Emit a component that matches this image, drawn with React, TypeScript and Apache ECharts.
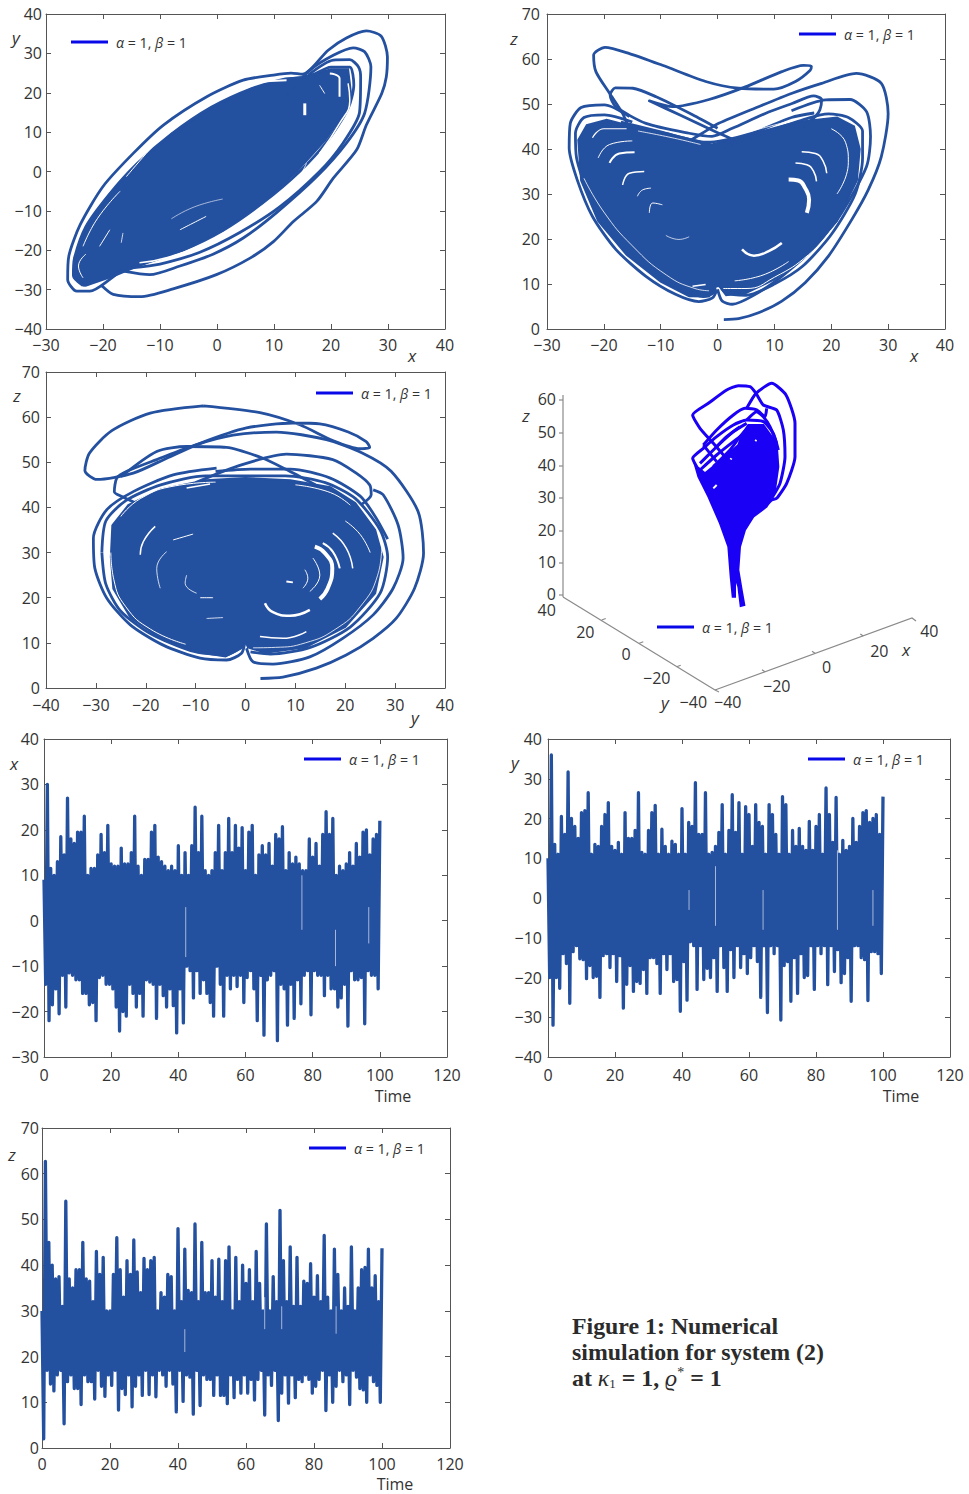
import React, { useEffect, useRef } from "react";
import * as echarts from "echarts";

// ---------- Shared labels ----------
const legendName = "α = 1, β = 1";
const captionLines = ["Figure 1: Numerical", "simulation for system (2)"];

// ---------- Panel 1: x–y phase portrait ----------
const xyCore = [[-25,-22],[-23,-14],[-19,-6],[-14,2],[-8,9.5],[-1,16.3],[6,21],[12,23.5],[15,24],[20,26],[23,26],[23.5,20],[22.5,15],[19,8],[14,0],[8,-8],[1,-15],[-6,-20],[-13,-23.5],[-18,-26.5],[-23,-29],[-25,-27]];
const xyLoopA = [[-20.2,-29],[-18.2,-31.2],[-13.5,-31.8],[-7.7,-29.8],[-0.1,-26.2],[5.8,-22],[9.9,-17.8],[13.4,-12.7],[17.5,-7.6],[20.4,-1.7],[24.5,5.5],[26.2,11.8],[28.9,19.8],[29.7,24],[29.9,29.1],[28.8,34.4],[26.2,35.7],[22.7,33.9],[19.5,30.8],[15,24.7],[13,25],[9.9,24.5],[4.6,23.2],[-1.8,19],[-9.4,11.8],[-14.7,4.6],[-20,-3.8],[-24,-13.5],[-26,-21.5],[-26.2,-27.4],[-24.6,-30.4],[-22.3,-30.4],[-18.8,-27.4],[-15.9,-24]];
const xyLoopB = [[-16.4,-25.3],[-11.8,-26.2],[-6.5,-24],[-0.7,-21],[4.6,-16.9],[10.4,-10.5],[17.5,-1.3],[22.7,7.2],[25.9,14.8],[27,26.6],[25.9,30.4],[23.9,31.4],[20.4,29.5],[16.3,25.7],[12.2,19.4]];
const xyLoopC = [[-15,-24.5],[-10,-23.5],[-3,-20.5],[4,-15.5],[11,-9],[18,0],[22,7],[25,15],[25.2,24],[24.8,26.6],[23.3,28.4],[20.4,28.3],[16,24.5]];
const xyRingA = [[-23.5,-29],[-25.2,-26.5],[-25,-22],[-23,-14],[-19,-6],[-14,2],[-8,9.5],[-1,16.3],[6,21],[12,23.5],[16,24],[20,26.5],[23.3,26.5],[24,22],[23,16],[19.5,8],[14.5,0],[8,-8],[1,-15],[-6,-20],[-13,-23.5],[-18,-26],[-23.5,-29]];
const xyStreaks: [number, number[][]][] = [
  [3, [[15.4,17.3],[15.4,14.3]]],
  [1, [[18,21.9],[18.9,19.8]]],
  [1, [[-6.5,-14.8],[-1.9,-11.4]]],
  [0.6, [[-8,-12],[-4,-9],[1,-7]]],
  [0.8, [[8.6,-10.5],[13.3,-3.8],[15.7,2.1]]],
  [1, [[-20.6,-19],[-18.8,-14.8]]],
  [0.8, [[-16.8,-18.1],[-16.5,-15.6]]],
  [2, [[-8.9,11],[-0.7,18.1],[6.3,22.4],[12.2,23.2]]],
  [1, [[-15.9,-1.3],[-12.4,4.6],[-8.9,10.1]]],
  [1.5, [[-13.6,-23.2],[-8.9,-21.9],[-1.9,-18.1],[5.1,-12.7]]],
  [1.5, [[23,22.4],[23.3,18.1],[21.5,12.2],[18,4.6]]],
  [2, [[19.8,24.9],[21.5,23.6],[21.5,19]]],
  [1, [[-23.5,-19],[-21,-12],[-17,-5]]],
  [1, [[-23.5,-27],[-24.3,-24],[-23,-21]]],
];

// ---------- Panel 2: x–z phase portrait ----------
const xzCore = [[-24.5,42],[-23,45.3],[-19.5,46.5],[-15,45],[-9,43.5],[-1,41],[5,43],[14,46],[21,47],[24,45],[25,40],[24.5,33],[21,24],[16,17],[10,11],[5,8],[1.5,7.5],[0.3,9.5],[-0.3,9.5],[-1.5,7.2],[-5,7.3],[-10,10.5],[-16,16.5],[-21,24],[-24,33]];
const xzLoopA = [[1.1,2.1],[3.7,2.3],[7.2,3.6],[11.3,6.2],[15.4,10.3],[19.5,16.2],[23.6,24.3],[26.5,30.9],[28.8,38.3],[30,47.9],[28.8,54.6],[24.4,56.8],[18.3,54.6],[13.1,52.4],[7.2,49.4],[0.2,45.7],[-2.7,43.5],[-6,41]];
const xzLoopB = [[-15.5,44.2],[-16.7,47.9],[-19,52.4],[-21.4,57.2],[-21.8,60.9],[-19.8,62.6],[-15.5,61.2],[-9.7,58.6],[-2.1,55],[3.7,53.5],[9.9,53.3],[13.7,55],[16.3,57.5],[16.5,58.4],[15.1,58.6],[11.3,57.2],[4.9,53.8],[-1.5,51],[-7.9,49.4],[-12,50.7],[-6.7,47.6],[0.2,43.5],[3,42]];
const xzLoopC = [[0,44.6],[-4.4,47.6],[-10.8,51.6],[-14.9,53.5],[-18,53.6],[-18.9,52],[-17.9,49.4],[-12.6,45.7],[-5,43.5],[-1,42.8],[2.6,44.6],[8.4,47.9],[13.1,50.1],[16.9,51.8],[18.3,51],[18,48.7],[17.2,47.2],[15,45]];
const xzLoopD = [[13,48.5],[19,50.9],[23.3,51],[26.2,48.3],[26.9,42.8],[26.2,36.1],[21.8,25.8],[17.2,18.4],[11.3,11.7],[6.1,7.3],[2.6,5.5],[0.8,6.2],[0,8.8]];
const xzLoopE = [[-15.5,47.2],[-19.9,49.8],[-24,49.2],[-25.9,45.7],[-26.1,40.2],[-24.7,33.2],[-22,25],[-17.9,17.7],[-12.6,11.7],[-7.4,7.7],[-3.3,6.1],[-0.9,6.9],[-0.1,8.8]];
const xzRingA = [[-15,46],[-19.9,47.6],[-23.5,47],[-25,43.5],[-24.8,38],[-23,31],[-20,24.5],[-16,18],[-11,12.5],[-6,8.7],[-2.5,7.2],[-0.8,8],[-0.3,10]];
const xzRingB = [[0.3,10],[1.5,8],[5,7.5],[10,10],[15,14],[20,21],[24.2,30],[25.5,38],[25.5,44],[23,47],[19.5,47.8],[15,46.5],[8,43.5],[0,40]];
const xzRingD = [[-17,46],[-10,43.8],[-2,41.5],[6,43.5],[13,47],[17,48]];
const xzStreaks: [number, number[][]][] = [
  [4, [[12.5,33.2],[14.2,33],[15.4,31.3],[16.1,28.7],[15.7,25.8]]],
  [1.5, [[13.7,36.9],[15.7,36.5],[16.9,35],[17.4,32.8]]],
  [1.5, [[14.8,39.4],[17.2,39],[18.6,37.2],[19.2,34.6]]],
  [2.5, [[4.3,17.7],[6.4,16.3],[9,17.3],[11.3,19.1]]],
  [2, [[-19,36.9],[-17.3,39],[-14.6,39.3]]],
  [1.5, [[-16.7,32],[-15.5,34.6],[-12.9,35]]],
  [1, [[-14.1,29.5],[-13.2,30.9],[-11.7,31.3]]],
  [1, [[-12,25.8],[-11.4,28],[-9.7,27.6]]],
  [0.7, [[-9.1,20.8],[-6.8,19.9],[-5,20.5]]],
  [1.5, [[-4.4,9.5],[-2.1,9.9]]],
  [0.8, [[-23.5,33.5],[-20,26],[-15,18.5],[-9,12],[-4,9],[-1.5,8.5]]],
  [1, [[1,9],[5,9],[10,11.5],[16,16.5],[20,22]]],
  [1, [[3,10.7],[8,12],[12.5,15]]],
  [0.8, [[-14,44],[-8,42.5],[-3,41]]],
  [0.8, [[6,44],[12,46]]],
  [1.2, [[-22,42.5],[-20,44.5],[-16,44.5]]],
  [1, [[-21,38],[-19,41],[-15,41.8]]],
  [1, [[20,44.5],[22.5,41.5],[23,37],[21,30]]],
];

// ---------- Panel 3: y–z phase portrait ----------
const yzCore = [[-27,29],[-26.7,36],[-23.5,40.5],[-17,44],[-8,46],[0,46.5],[9,46],[17,44.5],[22,41],[26,35],[27.5,29],[26,21],[20,13.5],[12,9],[4,7.8],[0.5,9],[0,10.3],[-0.5,9],[-4,7],[-10,8],[-17,11],[-23,15.5],[-26.5,22]];
const yzLoopA = [[3,2.1],[7.5,2.4],[14.2,4.4],[20.2,7.3],[25.6,11],[30.2,15.4],[33.9,22.1],[35.7,29.9],[34.6,39.1],[29.2,48],[23.5,52],[16.2,55],[6.2,56.7],[-2.5,56],[-9.8,53.9],[-17.8,50.6],[-23.8,48],[-25.8,46.5],[-26.3,43.5],[-24.8,42.4],[-22,41]];
const yzLoopB = [[-8.5,62.5],[-19.1,60.9],[-26.8,57],[-31.3,52],[-32.2,48.2],[-29.8,46.2],[-22.5,47.6],[-15.8,50.9],[-9.1,54.2],[0.2,57.6],[9.5,58.7],[14.9,58.5],[20.6,56.7],[24.2,54.6],[24.9,53.3],[22.9,53],[17.5,54.8],[10.9,58.3],[2.9,61],[-8.5,62.5]];
const yzLoopC = [[-25,46.8],[-17.8,52.4],[-11.8,53.5],[-3.8,53.3],[3.5,50.9],[8,48.5],[14,45]];
const yzLoopD = [[-10,45.5],[-2,49],[8.2,51.8],[17.5,50.6],[22.2,47.6],[24.9,45],[25.2,42.8],[23.2,40.6]];
const yzLoopE = [[25.6,43.9],[27.6,42.8],[30.6,36.1],[31.6,28.8],[29.6,22.1],[25.6,16.2],[19.5,11],[12.9,6.9],[5.5,5.3],[1.5,5.8],[0.2,8.8]];
const yzLoopF = [[-5.8,48.7],[-14.5,47.2],[-22.5,43.5],[-27.8,39.5],[-30.5,33.2],[-30.2,26.5],[-27.8,19.9],[-23.1,14],[-16.5,9.5],[-9.1,6.6],[-3.8,6.2],[-0.8,7.7],[-0.1,10.3]];
const yzRingA = [[-28.8,30],[-28,37],[-24,41.5],[-17,45],[-8,47],[0,47],[8,47],[16,45.5],[22,42],[27,35],[28.5,29],[27,21],[21,13.5],[13,9],[5,7.5],[1,8]];
const yzRingB = [[-28.8,30],[-28,23],[-25,17],[-19,12],[-11,8.3],[-4,7.3],[-0.8,9]];
const yzRingC = [[-6,48],[1,48.5],[9,48.5],[17,46.5],[23,42.5],[26,38],[28.5,33]];
const yzStreaks: [number, number[][]][] = [
  [4, [[13.9,31.3],[15.9,29.9],[17.4,26.5],[16.5,22.1],[14.9,19.7]]],
  [2.5, [[3.9,18.8],[5.5,16.8],[8.9,16],[12.9,17.3]]],
  [2, [[15.5,32.1],[17.5,30.2],[18.9,26.5]]],
  [1.5, [[17.5,34.3],[20.2,31],[21.5,26.5]]],
  [2, [[8.2,23.6],[9.5,23.4]]],
  [1, [[11.9,26.2],[12.5,24.3],[11.5,22.1]]],
  [1, [[13.5,28.8],[14.9,25],[12.9,21.4]]],
  [1, [[-14.5,32.8],[-10.5,34.1]]],
  [1.5, [[-18.1,35.8],[-20.5,32.4],[-21.1,29.5]]],
  [0.8, [[-15.8,30.2],[-17.8,26.5],[-17.1,22.1]]],
  [0.8, [[-11.8,25],[-12.1,23.2],[-9.8,21]]],
  [1, [[-9.1,20],[-6.5,20]]],
  [0.8, [[-7.8,15.4],[-4.5,15.6]]],
  [1.5, [[-11.8,44.3],[-7.1,45.2]]],
  [1.5, [[2.9,11.4],[7.5,11],[12.2,12.5]]],
  [1, [[-27,30],[-26.4,24],[-24,18],[-19,13],[-12,9.7]]],
  [0.8, [[1.5,8.9],[6,9],[12,10],[18,13],[23,18],[26.5,25],[27.3,31]]],
  [1, [[-25,38],[-21,42],[-14,44.8],[-6,45.6]]],
  [1, [[10,45],[17,43.3],[21,40.5]]],
  [1, [[20,37],[23,34],[25,30]]],
];

// ---------- Panel 4: 3-D view, in view-plane units ----------
const viewCore = [[585,285],[615,310],[670,265],[715,225],[725,195],[745,165],[790,165],[830,220],[835,290],[825,360],[800,410],[760,440],[735,480],[720,530],[715,600],[725,660],[733,705],[722,708],[715,650],[705,620],[705,680],[698,680],[692,620],[685,530],[660,460],[625,380],[595,320]];
const viewLoops = [
  [[675,260],[640,220],[600,175],[578,135],[625,100],[680,60],[715,47],[750,50],[768,70],[790,105],[830,120],[850,180],[855,260],[840,340],[815,385]],
  [[740,115],[768,70],[815,40],[858,75],[885,160],[885,260],[860,340],[830,385],[815,390],[800,405]],
  [[610,225],[650,180],[700,135],[735,115],[770,120],[795,140],[800,115]],
  [[740,150],[770,125],[790,140],[810,170],[830,220]],
  [[590,290],[578,265],[610,235],[650,200],[700,165],[740,150],[790,155],[820,190],[835,240]],
  [[610,225],[630,250],[650,275]],
  [[600,280],[640,240],[680,200],[720,170]],
  [[600,300],[650,255],[700,215],[740,185]],
  [[620,320],[680,270],[720,225],[760,175]],
  [[640,290],[690,240],[720,200],[750,165]],
  [[650,230],[700,185],[740,160]],
];
const viewStreaks: [number, number[][]][] = [
  [2, [[640,355],[650,345]]],
  [1.5, [[690,265],[696,268]]],
  [1.5, [[765,210],[770,213]]],
];

// ---------- Panels 5–7: time series, one high and one low per time unit ----------
const xHighs = [9,30,11.5,10,13,18.5,14.5,27,18,17,19.5,19.5,23,10,11.5,11.5,14.5,19,15,21,12.5,12,12,16,12.5,12.5,15,23,12,10,13.5,13.5,19.5,21,14,13,12,11,12,11,16.5,10,15,10,16.5,25,15,23,11,10,11,15,21,11,15,22.5,15,21,16,20.5,11,19.5,21,10,14.5,16.5,14.5,17,12,19,18,20.7,11,15,12.5,14,12.5,11,11,18,14,17,12,19,24,19,22.5,10,12,11,12.5,15,12,17,14,19.5,20,14.5,18,19,22];
const xLows = [-14,-22,-18.5,-15,-20.5,-12,-19,-11.5,-12,-13,-13,-16,-16,-18.5,-18,-22,-12.5,-12,-14,-14,-15,-19,-24.3,-20,-21,-14,-16,-19,-16,-21,-13,-13.5,-14,-21.5,-14,-16.5,-19,-15,-18.7,-24.7,-15,-22.5,-10,-11,-17,-11,-16,-13,-16,-18,-21,-10,-14,-21,-12,-15,-12,-14.5,-12,-18,-12.5,-11,-15,-22,-12,-25.2,-13,-12,-11,-26.4,-14,-15,-23,-14,-21.5,-13,-18.3,-12,-11,-20.7,-11,-12,-12,-16.5,-12,-15,-15,-19,-17,-14,-23.2,-11,-13,-13,-12.5,-22.7,-11,-12,-12,-15];
const yHighs = [10,36,13.5,11,20.5,16,31.7,20,18,15,21.5,22,26.5,11,13.5,13,18,21,24,13,12,14,11,21.5,15,15,17,26.5,11.5,11,17,21.5,23.3,11,17.3,13,11,14.3,13.5,11,22.5,11,19,18,29,16,16,26.5,11,11.5,13,16.5,23.5,11,17,26,16.5,24,11,23,21,13,23.5,19,18,11,23.5,21,16,11,25.5,23.5,11,17,13,17.5,13,12,19.3,12,18,21,11,27.7,21,14,25.3,11,14.5,12,13,20,14,18,21.5,22,19,20,21,16,25.5];
const yLows = [-20,-32,-20,-22.7,-14,-16.5,-26.5,-13.5,-12,-15.3,-15.5,-20.3,-17,-20,-19.7,-25,-14.5,-14,-17.5,-14,-21,-14.5,-27.7,-21.7,-17,-23.5,-21,-21.5,-18,-24,-15,-15,-16.5,-24,-14,-18,-14,-21,-20.5,-28.5,-16,-25.7,-11,-12,-23,-12,-20.5,-17.7,-20,-15,-23.5,-12,-17.5,-23.5,-13,-20,-12,-17.5,-14,-19,-15,-12,-16,-25,-12,-28.8,-12,-14,-12,-30.7,-17,-16,-26,-15,-24,-14,-20,-19.5,-12,-23,-12,-14,-12,-21.8,-12,-18.5,-13,-21.3,-19,-15,-26,-12,-12,-15,-15.5,-25.8,-13.5,-13.5,-14,-19];
const zHighs = [30,62.7,45,40,37,37.5,31,54,37,35,39,39,45,37,36.5,32,43,38,41.7,30,30,38,46,39,33,41,38,45.5,38.5,34,41.5,39,41,41.7,30,34,33,38,37.5,30,48,32,43.5,34.5,34,49,32,45,34,34,41,33,41.3,32,41,44,30,41.7,32,40,36,39,32,43,36,30,49,30,37.5,32,52,41,32,44,31,41.7,31,36.5,36,40.3,33,37.7,32,46.5,33,30,43.5,38,30,35,31,44,30,35,39,39.5,43.5,35,37.7,32,43.7];
const zLows = [2,17,14,12.5,16,17,5.3,14.5,16,13,13,9.5,16,14.5,14.5,10.7,17,13.5,11.3,16,13.7,17,8.3,13,11.7,16,9,13.5,16,11.5,17,11.7,16,11.2,17,16,13.5,17,14,7.9,17,10.2,16,15.5,7.4,17,9.3,16,15,15,11.5,16,11.5,11.5,9.7,16,11,15,12,16,12,15,10.5,15,17,7.2,16,13.7,17,6,12,16,9.8,16,11,15,14.5,16,15,12,13.5,15,17,8.2,16,10,13.5,17,14.5,16,9.5,17,15.5,13,12.7,10,16,14.5,13.7,10];
const xLightLines = [[[42.2,3],[42.2,-8]],[[76.8,10],[76.8,-2]],[[86.8,-2],[86.8,-10]],[[96.7,3],[96.7,-5]]];
const yLightLines = [[[50,8],[50,-7]],[[64.2,2],[64.2,-8]],[[86.4,12],[86.4,-8]],[[97,2],[97,-7]],[[42.1,2],[42.1,-3]]];
const zLightLines = [[[42,26],[42,21]],[[65.5,33],[65.5,26]],[[70.5,31],[70.5,26]],[[86.5,31],[86.5,25]]];

// ---------- Styles ----------
const traceColor = "#2450a0";
const view3dColor = "#1a00f5";
const legendColor = "#0808e8";
const inkColor = "#333333";
const axisColor = "#555555";
const lightLine = "#b4c3e0";
const sansFont = "'Open Sans', sans-serif";

const minus = (v: number | string) => String(v).replace("-", "−");

// Weave a high/low pair into one line read along time.
const weave = (highs: number[], lows: number[]) => {
  const out: number[][] = [];
  highs.forEach((h, i) => {
    out.push([i, h]);
    if (i < lows.length) out.push([i + 0.5, lows[i]]);
  });
  return out;
};

type Panel = {
  box: [number, number, number, number];
  xr: [number, number, number];
  yr: [number, number, number];
  xMargin: number;
  yMargin: number;
  xName: string;
  yName: string;
  xNameAt: [number, number];
  yNameAt: [number, number];
  legendAt: [number, number];
  core?: number[][];
  loops: number[][][];
  streaks?: [number, number[][]][];
  light?: number[][][];
};

const panels: Panel[] = [
  { box: [46, 14, 399, 315], xr: [-30, 40, 10], yr: [-40, 40, 10], xMargin: 8, yMargin: 4, xName: "x", yName: "y", xNameAt: [412, 355], yNameAt: [16, 37], legendAt: [71, 42],
    core: xyCore, loops: [xyRingA, xyLoopA, xyLoopB, xyLoopC], streaks: xyStreaks },
  { box: [547, 14, 398, 315], xr: [-30, 40, 10], yr: [0, 70, 10], xMargin: 8, yMargin: 7, xName: "x", yName: "z", xNameAt: [914, 355], yNameAt: [514, 38], legendAt: [799, 34],
    core: xzCore, loops: [xzRingA, xzRingB, xzRingD, xzLoopA, xzLoopB, xzLoopC, xzLoopD, xzLoopE], streaks: xzStreaks },
  { box: [46, 372, 399, 316], xr: [-40, 40, 10], yr: [0, 70, 10], xMargin: 9, yMargin: 6, xName: "y", yName: "z", xNameAt: [415, 717], yNameAt: [17, 395], legendAt: [316, 393],
    core: yzCore, loops: [yzRingA, yzRingB, yzRingC, yzLoopA, yzLoopB, yzLoopC, yzLoopD, yzLoopE, yzLoopF], streaks: yzStreaks },
  { box: [44, 739, 403, 318], xr: [0, 120, 20], yr: [-30, 40, 10], xMargin: 10, yMargin: 5, xName: "Time", yName: "x", xNameAt: [393, 1096], yNameAt: [14, 763], legendAt: [304, 759],
    loops: [weave(xHighs, xLows)], light: xLightLines },
  { box: [548, 739, 402, 318], xr: [0, 120, 20], yr: [-40, 40, 10], xMargin: 10, yMargin: 6, xName: "Time", yName: "y", xNameAt: [901, 1096], yNameAt: [515, 762], legendAt: [808, 759],
    loops: [weave(yHighs, yLows)], light: yLightLines },
  { box: [42, 1128, 408, 320], xr: [0, 120, 20], yr: [0, 70, 10], xMargin: 8, yMargin: 3, xName: "Time", yName: "z", xNameAt: [395, 1484], yNameAt: [12, 1154], legendAt: [309, 1148],
    loops: [weave(zHighs, zLows)], light: zLightLines },
];

const view3dGrid = 6; // index of the 3-D view's grid

// Polygon series: the part of the attractor where the trace fills solid.
function coreSeries(idx: number, pts: number[][], color: string) {
  return {
    type: "custom",
    name: "core" + idx,
    xAxisIndex: idx * 2,
    yAxisIndex: idx * 2,
    silent: true,
    clip: false,
    data: pts,
    renderItem: (p: any, api: any) => {
      if (p.dataIndex !== 0) return null;
      return {
        type: "polygon",
        shape: { points: pts.map((d) => api.coord(d)) },
        style: { fill: color, stroke: color, lineWidth: 2 },
      };
    },
  };
}

function lineSeries(name: string, idx: number, data: number[][], color: string, width: number, smooth: number | boolean = false) {
  return {
    type: "line",
    name,
    xAxisIndex: idx * 2,
    yAxisIndex: idx * 2,
    data,
    showSymbol: false,
    symbol: "none",
    silent: true,
    clip: false,
    smooth,
    lineStyle: { color, width, join: "round" },
    itemStyle: { color },
    emphasis: { disabled: true },
  };
}

function buildOption() {
  const grid: any[] = [];
  const xAxis: any[] = [];
  const yAxis: any[] = [];
  const series: any[] = [];
  const legend: any[] = [];

  const legendAt = (at: [number, number]) => ({
    left: at[0],
    top: at[1] - 7,
    padding: 0,
    itemWidth: 37,
    itemHeight: 3,
    itemGap: 0,
    selectedMode: false,
    data: [{ name: legendName, icon: "rect", itemStyle: { color: legendColor } }],
    formatter: () => "{i|α} = 1, {i|β} = 1",
    textStyle: {
      color: inkColor,
      fontFamily: sansFont,
      fontSize: 14.2,
      padding: [0, 0, 0, 3],
      rich: {
        i: { fontStyle: "italic", color: inkColor, fontFamily: sansFont, fontSize: 14.2 },
      },
    },
  });

  panels.forEach((p, idx) => {
    const [l, t, w, h] = p.box;
    grid.push({ left: l, top: t, width: w, height: h, containLabel: false });
    const line = { show: true, onZero: false, lineStyle: { color: axisColor, width: 1 } };
    const tick = { show: true, inside: true, length: 5, lineStyle: { color: axisColor, width: 1 } };
    const xBase = { type: "value", gridIndex: idx, min: p.xr[0], max: p.xr[1], interval: p.xr[2], splitLine: { show: false }, axisLine: line, axisTick: tick };
    const yBase = { type: "value", gridIndex: idx, min: p.yr[0], max: p.yr[1], interval: p.yr[2], splitLine: { show: false }, axisLine: line, axisTick: tick };
    xAxis.push({
      ...xBase,
      position: "bottom",
      axisLabel: { color: inkColor, fontFamily: sansFont, fontSize: 16, margin: p.xMargin, formatter: minus, hideOverlap: false, showMinLabel: true, showMaxLabel: true },
    });
    xAxis.push({ ...xBase, position: "top", axisLabel: { show: false } });
    yAxis.push({
      ...yBase,
      position: "left",
      axisLabel: { color: inkColor, fontFamily: sansFont, fontSize: 16, margin: p.yMargin, formatter: minus, hideOverlap: false, showMinLabel: true, showMaxLabel: true },
    });
    yAxis.push({ ...yBase, position: "right", axisLabel: { show: false } });

    if (p.core) series.push(coreSeries(idx, p.core, traceColor));
    p.loops.forEach((d, i) => {
      const isOuter = i === p.loops.length - 1;
      series.push(lineSeries(isOuter ? legendName : `trace${idx}-${i}`, idx, d, traceColor, p.core ? 2.8 : 3.3, p.core ? 0.25 : false));
    });
    (p.streaks || []).forEach(([wd, d], i) => {
      series.push(lineSeries(`gap${idx}-${i}`, idx, d, "#ffffff", wd, true));
    });
    (p.light || []).forEach((d, i) => {
      series.push(lineSeries(`light${idx}-${i}`, idx, d, lightLine, 0.9));
    });
    legend.push(legendAt(p.legendAt));
  });

  // 3-D view: hidden scales in view-plane units.
  grid.push({ left: 500, top: 370, width: 469, height: 350 });
  const hiddenX = { type: "value", gridIndex: view3dGrid, min: 0, max: 1407, show: false };
  const hiddenY = { type: "value", gridIndex: view3dGrid, min: 0, max: 1050, inverse: true, show: false };
  xAxis.push(hiddenX, { ...hiddenX });
  yAxis.push(hiddenY, { ...hiddenY });
  series.push(coreSeries(view3dGrid, viewCore, view3dColor));
  viewLoops.forEach((d, i) => {
    series.push(lineSeries(i === 0 ? legendName : `view-${i}`, view3dGrid, d, view3dColor, 3, 0.2));
  });
  viewStreaks.forEach(([wd, d], i) => {
    series.push(lineSeries(`viewgap-${i}`, view3dGrid, d, "#ffffff", wd));
  });
  legend.push(legendAt([657, 627]));

  return { animation: false, backgroundColor: "#ffffff", grid, xAxis, yAxis, series, legend, graphic: buildGraphics() };
}

// Axis frame and labels of the 3-D view.
const zTicks3d = [[563, 400, "60"], [563, 433, "50"], [563, 466, "40"], [563, 498, "30"], [563, 531, "20"], [563, 563, "10"], [563, 595, "0"]] as const;
const yLabels3d = [[546.7, 610, "40"], [585.3, 631.7, "20"], [626, 654.3, "0"], [656.7, 677.7, "−20"], [693.3, 701.7, "−40"]] as const;
const xLabels3d = [[727.7, 701.7, "−40"], [776.7, 685.7, "−20"], [826.7, 666.7, "0"], [879.3, 651, "20"], [929.3, 631, "40"]] as const;
const yTickMarks3d = [[601.7, 620], [639.3, 643.3], [676.7, 666.7]];
const xTickMarks3d = [[765, 671.7], [815, 653.3], [863.3, 636]];

function buildGraphics() {
  const g: any[] = [];
  const gray = { stroke: "#8a8a8a", lineWidth: 1.2 };
  const text = (x: number, y: number, t: string, extra: any = {}) => ({
    type: "text", x, y, silent: true,
    style: { text: t, fill: inkColor, font: `16px ${sansFont}`, align: "center", verticalAlign: "middle", ...extra },
  });
  g.push({ type: "line", silent: true, shape: { x1: 563, y1: 395, x2: 563, y2: 597 }, style: gray });
  g.push({ type: "line", silent: true, shape: { x1: 563, y1: 597, x2: 715, y2: 690 }, style: gray });
  g.push({ type: "polyline", silent: true, shape: { points: [[715, 690], [912, 618], [916, 621]] }, style: { ...gray, fill: "none" } });
  g.push({ type: "line", silent: true, shape: { x1: 715, y1: 690, x2: 719, y2: 692 }, style: gray });
  zTicks3d.forEach(([x, y, s]) => {
    g.push({ type: "line", silent: true, shape: { x1: x - 4, y1: y, x2: x, y2: y }, style: gray });
    g.push(text(x - 7, y - 1, s, { align: "right" }));
  });
  yTickMarks3d.forEach(([x, y]) => g.push({ type: "line", silent: true, shape: { x1: x, y1: y, x2: x + 4, y2: y - 1.5 }, style: gray }));
  xTickMarks3d.forEach(([x, y]) => g.push({ type: "line", silent: true, shape: { x1: x, y1: y, x2: x - 3, y2: y - 2 }, style: gray }));
  yLabels3d.forEach(([x, y, s]) => g.push(text(x, y, s)));
  xLabels3d.forEach(([x, y, s]) => g.push(text(x, y, s)));
  const nameFont = `italic 17px ${sansFont}`;
  g.push(text(526, 415, "z", { font: nameFont }));
  g.push(text(665, 702, "y", { font: nameFont }));
  g.push(text(906, 649, "x", { font: nameFont }));

  // Axis names of the six framed panels.
  panels.forEach((p) => {
    g.push(text(p.xNameAt[0], p.xNameAt[1], p.xName, p.xName === "Time" ? {} : { font: nameFont }));
    g.push(text(p.yNameAt[0], p.yNameAt[1], p.yName, { font: nameFont }));
  });

  // Caption
  const serif = "'Liberation Serif', serif";
  const capFont = `bold 23.85px ${serif}`;
  const capColor = "#2b2b2b";
  captionLines.forEach((s, i) => {
    g.push({ type: "text", x: 572, y: 1325.5 + i * 26, silent: true, style: { text: s, fill: capColor, font: capFont, align: "left", verticalAlign: "middle" } });
  });
  g.push({
    type: "text", x: 572, y: 1377.5, silent: true,
    style: {
      text: "at {g|κ}{s|1} = 1, {g|ϱ}{u|*} = 1",
      fill: capColor, font: capFont, align: "left", verticalAlign: "middle",
      rich: {
        g: { font: `italic 23.85px ${serif}`, fill: capColor },
        s: { font: `13px ${serif}`, fill: capColor, verticalAlign: "bottom", padding: [8, 0, 0, 0] },
        u: { font: `14px ${serif}`, fill: capColor, verticalAlign: "top", padding: [0, 0, 6, 0] },
      },
    },
  });
  return g;
}

export default function App() {
  const ref = useRef<HTMLDivElement | null>(null);
  useEffect(() => {
    if (!ref.current) return;
    const chart = echarts.init(ref.current, undefined, { renderer: "svg" });
    chart.setOption(buildOption() as any);
    return () => chart.dispose();
  }, []);
  return <div ref={ref} style={{ position: "absolute", left: 0, top: 0, width: 969, height: 1494 }} />;
}
